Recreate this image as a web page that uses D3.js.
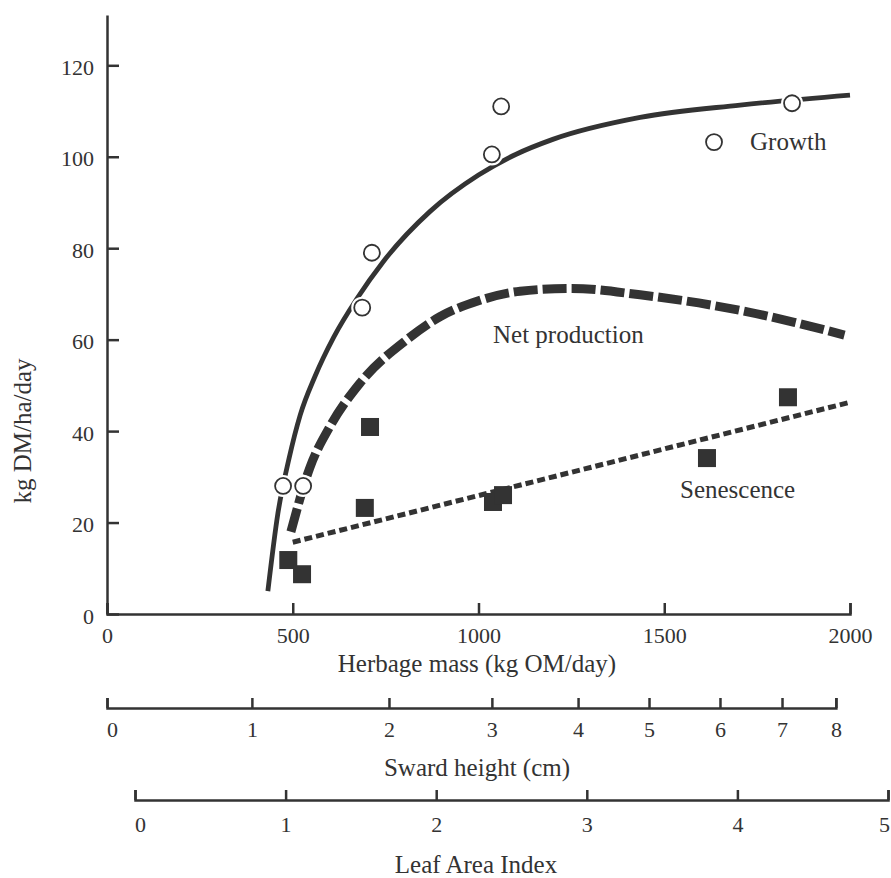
<!DOCTYPE html>
<html>
<head>
<meta charset="utf-8">
<script src="https://d3js.org/d3.v7.min.js"></script>
<style>
    body { margin: 0; background: white; }
    text { font-family: "Liberation Serif", "Times New Roman", serif; fill: #333; }
    .axis path, .axis line { stroke: #333; stroke-width: 2.5; }
</style>
</head>
<body>
<script>
    // ---- data ----
    let xTicks = [0, 500, 1000, 1500, 2000];
    let yTicks = [0, 20, 40, 60, 80, 100, 120];
    let swardTicks = [0, 1, 2, 3, 4, 5, 6, 7, 8];
    let swardMass = [0, 390, 759, 1036, 1268, 1459, 1650, 1817, 1962]; // herbage mass at each sward height
    let laiTicks = [0, 1, 2, 3, 4, 5];

    // observed growth (open circles)
    let growthMass = [474, 528, 687, 713, 1036, 1061, 1634, 1844];
    let growthRate = [28, 28, 67, 79, 100.5, 111, 103.2, 111.7];
    // observed senescence (filled squares)
    let senMass = [488, 525, 694, 708, 1039, 1066, 1615, 1833];
    let senRate = [11.8, 8.7, 23.2, 40.9, 24.5, 26, 34.1, 47.4];

    // fitted curves
    let growthFitMass = [433, 460, 490, 520, 560, 610, 673, 743, 869, 1000, 1100, 1200, 1435, 1704, 2000];
    let growthFitRate = [5, 22, 34, 43.5, 52, 60.5, 69, 77, 88, 96, 100.5, 103.8, 108.6, 111.3, 113.5];
    let netFitMass = [495, 546, 600, 681, 807, 896, 1000, 1112, 1250, 1435, 1704, 1850, 1985];
    let netFitRate = [18, 32, 41, 50.5, 60, 65, 68.5, 70.6, 71.2, 69.8, 66.4, 63.8, 61];
    let senFitMass = [500, 2000];
    let senFitRate = [15.7, 46.3];

    let width = 891, height = 878;
    let ink = "#333";

    let svg = d3.select("body").append("svg")
        .attr("width", width)
        .attr("height", height);

    let x = d3.scaleLinear().domain([0, 2000]).range([107, 850]);
    let y = d3.scaleLinear().domain([0, 131]).range([614, 15]);

    // y axis
    svg.append("g")
        .attr("class", "axis")
        .attr("transform", "translate(107,0)")
        .call(d3.axisLeft(y).tickValues(yTicks).tickSizeInner(-12).tickSizeOuter(0).tickPadding(13))
        .call(g => g.selectAll(".tick text").attr("font-size", 22).attr("dy", 9));

    // herbage mass axis
    svg.append("g")
        .attr("class", "axis")
        .attr("transform", "translate(0,614)")
        .call(d3.axisBottom(x).tickValues(xTicks).tickFormat(d3.format("d")).tickSizeInner(-11).tickSizeOuter(-11).tickPadding(13))
        .call(g => g.selectAll("text").attr("font-size", 22));

    // sward height axis (non-linear, mapped through herbage mass)
    let sward = d3.scaleLinear().domain(swardTicks).range(swardMass.map(x));
    svg.append("g")
        .attr("class", "axis")
        .attr("transform", "translate(0,708)")
        .call(d3.axisBottom(sward).tickValues(swardTicks).tickFormat(d3.format("d")).tickSizeInner(-10).tickSizeOuter(-10).tickPadding(13))
        .call(g => g.selectAll("text").attr("font-size", 22).attr("dx", d => d === 0 ? 5 : 0));

    // leaf area index axis
    let lai = d3.scaleLinear().domain([0, 5]).range([135, 888]);
    svg.append("g")
        .attr("class", "axis")
        .attr("transform", "translate(0,800)")
        .call(d3.axisBottom(lai).tickValues(laiTicks).tickFormat(d3.format("d")).tickSizeInner(-10).tickSizeOuter(-10).tickPadding(16))
        .call(g => g.selectAll("text").attr("font-size", 22)
            .attr("dx", d => d === 0 ? 5 : (d === 5 ? -4 : 0)));

    svg.selectAll(".axis .domain").attr("fill", "none");

    // axis titles
    svg.append("text").attr("x", 477).attr("y", 672).attr("text-anchor", "middle")
        .attr("font-size", 25).text("Herbage mass (kg OM/day)");
    svg.append("text").attr("x", 477).attr("y", 776).attr("text-anchor", "middle")
        .attr("font-size", 25).text("Sward height (cm)");
    svg.append("text").attr("x", 476).attr("y", 873).attr("text-anchor", "middle")
        .attr("font-size", 25).text("Leaf Area Index");
    svg.append("text").attr("transform", "translate(31,431) rotate(-90)").attr("text-anchor", "middle")
        .attr("font-size", 25).text("kg DM/ha/day");

    let line = d3.line()
        .x(d => x(d[0]))
        .y(d => y(d[1]))
        .curve(d3.curveMonotoneX);

    // growth curve (solid)
    svg.append("path")
        .datum(d3.zip(growthFitMass, growthFitRate))
        .attr("d", line)
        .attr("fill", "none")
        .attr("stroke", ink)
        .attr("stroke-width", 4.8);

    // net production (heavy dashes)
    svg.append("path")
        .datum(d3.zip(netFitMass, netFitRate))
        .attr("d", line)
        .attr("fill", "none")
        .attr("stroke", ink)
        .attr("stroke-width", 9)
        .attr("stroke-dasharray", "24,5");

    // senescence (dotted)
    svg.append("path")
        .datum(d3.zip(senFitMass, senFitRate))
        .attr("d", line)
        .attr("fill", "none")
        .attr("stroke", ink)
        .attr("stroke-width", 5)
        .attr("stroke-dasharray", "8,4");

    let growth = d3.zip(growthMass, growthRate);

    // white halos so the line breaks round each circle
    svg.selectAll(".halo")
        .data(growth)
        .enter()
        .append("circle")
        .attr("cx", d => x(d[0]))
        .attr("cy", d => y(d[1]))
        .attr("r", 11)
        .attr("fill", "white");

    svg.selectAll(".growth")
        .data(growth)
        .enter()
        .append("circle")
        .attr("cx", d => x(d[0]))
        .attr("cy", d => y(d[1]))
        .attr("r", 8)
        .attr("fill", "white")
        .attr("stroke", ink)
        .attr("stroke-width", 1.8);

    let sq = 18;
    svg.selectAll(".sen")
        .data(d3.zip(senMass, senRate))
        .enter()
        .append("rect")
        .attr("x", d => x(d[0]) - sq / 2)
        .attr("y", d => y(d[1]) - sq / 2)
        .attr("width", sq)
        .attr("height", sq)
        .attr("fill", ink);

    // curve labels
    svg.append("text").attr("x", 750).attr("y", 150).attr("font-size", 25).text("Growth");
    svg.append("text").attr("x", 493).attr("y", 343).attr("font-size", 25).text("Net production");
    svg.append("text").attr("x", 680).attr("y", 498).attr("font-size", 25).text("Senescence");
</script>
</body>
</html>
